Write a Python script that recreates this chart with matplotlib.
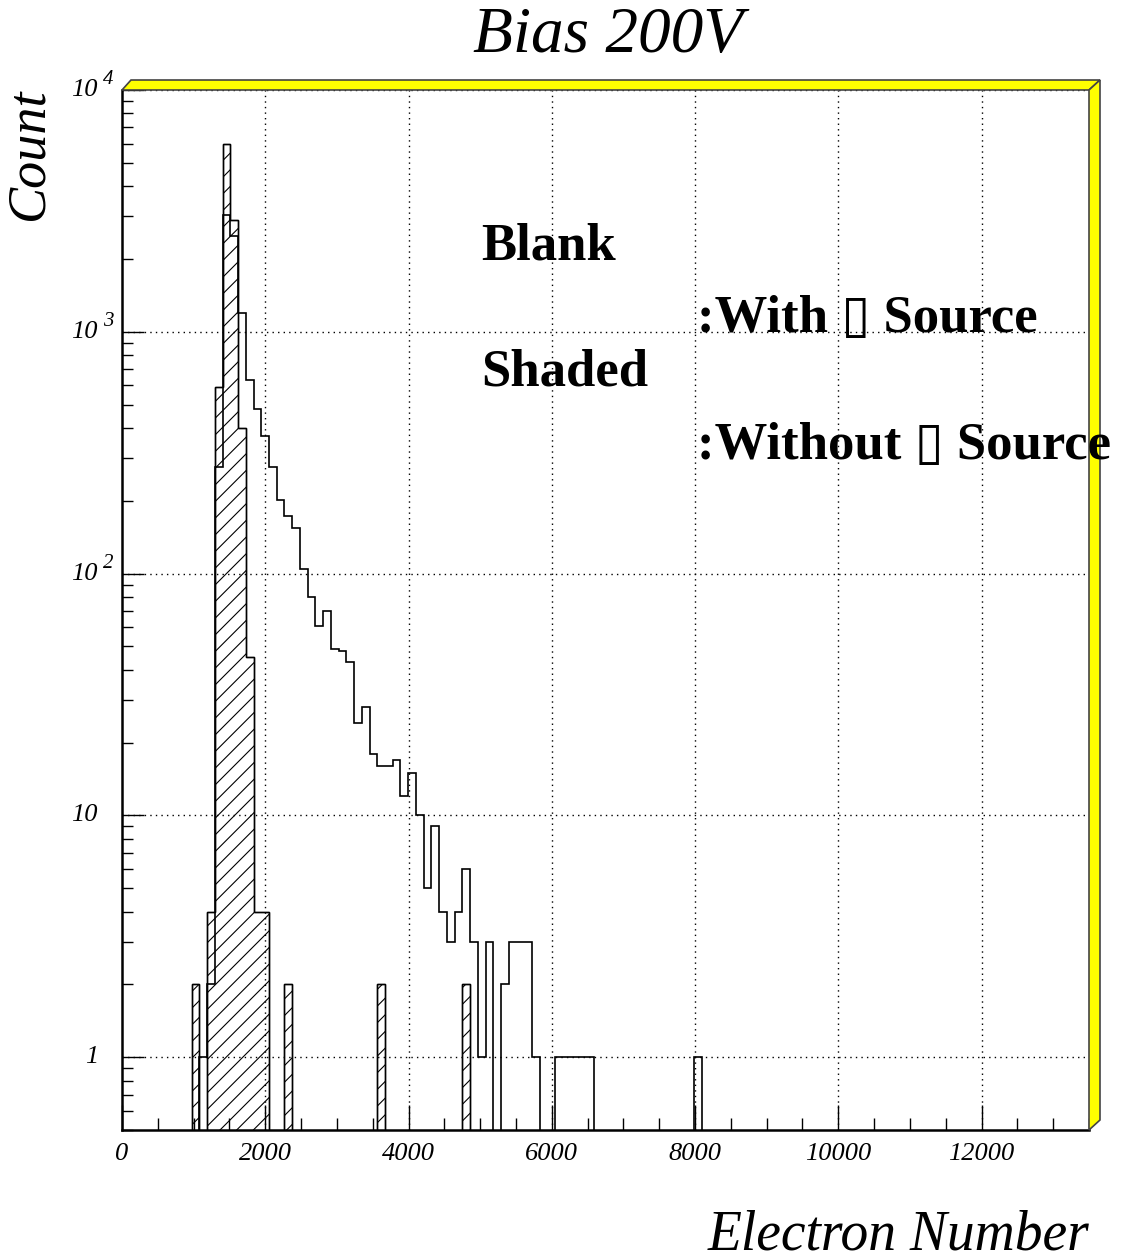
import numpy as np
import matplotlib
matplotlib.use("Agg")
import matplotlib.pyplot as plt
from matplotlib.patches import Polygon
from matplotlib import transforms

plt.rcParams['font.family'] = ['Liberation Serif', 'DejaVu Sans']
plt.rcParams['hatch.linewidth'] = 0.8

# histogram: 125 bins from 0 to 13500
n_bins = 125
x_max = 13500

# "with source" (open histogram), counts from bin 10 on
with_first_bin = 10
with_counts = [1, 2, 275, 3050, 2500, 1200, 634, 479, 369, 275,
               202, 173, 155, 104, 80, 61, 70, 49, 48, 43,
               24, 28, 18, 16, 16, 17, 12, 15, 10, 5,
               9, 4, 3, 4, 6, 3, 1, 3, 0, 2,
               3, 3, 3, 1, 0, 0, 1, 1, 1, 1,
               1, 0, 0, 0, 0, 0, 0, 0, 0, 0,
               0, 0, 0, 0, 1]

# "without source" (shaded histogram), counts from bin 9 on
without_first_bin = 9
without_counts = [2, 0, 4, 590, 6000, 2900, 400, 45, 4, 4,
                  0, 0, 2, 0, 0, 0, 0, 0, 0, 0,
                  0, 0, 0, 0, 2, 0, 0, 0, 0, 0,
                  0, 0, 0, 0, 0, 2]

x_ticks = [0, 2000, 4000, 6000, 8000, 10000, 12000]
decades = [1, 10, 100, 1000, 10000]
decade_base = ['1', '10', '10', '10', '10']
decade_exp = ['', '', '2', '3', '4']

edges = np.linspace(0, x_max, n_bins + 1)
h_with = np.zeros(n_bins)
h_with[with_first_bin:with_first_bin + len(with_counts)] = with_counts
h_without = np.zeros(n_bins)
h_without[without_first_bin:without_first_bin + len(without_counts)] = without_counts

W, H = 1128, 1260
fig = plt.figure(figsize=(W / 100, H / 100), dpi=100)


def fx(px):
    return px / W


def fy(py):
    return 1 - py / H


ax = fig.add_axes([fx(122), fy(1130), fx(1089) - fx(122), fy(90) - fy(1130)])
ax.set_yscale('log', nonpositive='clip')
ax.set_xlim(0, x_max)
ax.set_ylim(0.5, 10000)

# shaded histogram first, open outline on top
ax.stairs(h_without, edges, baseline=0, fill=True, facecolor='none',
          edgecolor='black', hatch='//', linewidth=1.0, zorder=2)
ax.stairs(h_without, edges, baseline=0, fill=False, color='black',
          linewidth=1.0, zorder=3)
ax.stairs(h_with, edges, baseline=0, fill=False, color='black',
          linewidth=1.2, zorder=4)

# grid
for xv in x_ticks[1:]:
    ax.axvline(xv, color='black', lw=1, ls=(0, (1, 3)), zorder=1)
for yv in decades:
    ax.axhline(yv, color='black', lw=1, ls=(0, (1, 3)), zorder=1)

# ticks
ax.set_xticks(x_ticks)
ax.set_xticks(np.arange(0, x_max + 1, 500), minor=True)
ax.set_xticklabels([str(v) for v in x_ticks], fontstyle='italic', fontsize=19)
ax.tick_params(axis='x', which='major', direction='in', length=18, width=1,
               top=False, pad=9)
ax.tick_params(axis='x', which='minor', direction='in', length=9, width=1, top=False)
ax.tick_params(axis='y', which='major', direction='in', length=16, width=1, right=False)
ax.tick_params(axis='y', which='minor', direction='in', length=8, width=1, right=False)
ax.set_yticks(decades)
ax.set_yticklabels([])
ax.yaxis.set_minor_locator(matplotlib.ticker.LogLocator(base=10, subs=np.arange(2, 10)))
ax.yaxis.set_minor_formatter(matplotlib.ticker.NullFormatter())

for s in ['top', 'right']:
    ax.spines[s].set_visible(False)
for s in ['left', 'bottom']:
    ax.spines[s].set_linewidth(1.8)

# y labels drawn by hand: "10" plus raised exponent
tr = transforms.blended_transform_factory(fig.transFigure, ax.transData)
for v, b, e in zip(decades, decade_base, decade_exp):
    ax.text(fx(98), v, b, transform=tr, ha='right', va='center',
            fontstyle='italic', fontsize=19, clip_on=False)
    if e:
        off = transforms.offset_copy(tr, fig=fig, x=0, y=10, units='dots')
        ax.text(fx(103), v, e, transform=off, ha='left', va='center',
                fontstyle='italic', fontsize=15, clip_on=False)

# yellow bevelled frame on top and right
top_band = [(122, 90), (131, 80), (1100, 80), (1089, 90)]
right_band = [(1089, 90), (1100, 80), (1100, 1120), (1089, 1130)]
for band in (top_band, right_band):
    fig.add_artist(Polygon([(fx(a), fy(b)) for a, b in band], closed=True,
                           transform=fig.transFigure, facecolor='#ffff00',
                           edgecolor='#444444', linewidth=1.2))

# titles
fig.text(fx(608), fy(36), 'Bias 200V', ha='center', va='center',
         fontstyle='italic', fontsize=47)
fig.text(fx(1089), fy(1250), 'Electron Number', ha='right', va='baseline',
         fontstyle='italic', fontsize=40)
fig.text(fx(54), fy(88), 'Count', ha='right', va='top', rotation=90,
         fontstyle='italic', fontsize=39)

# legend text
bold = dict(fontweight='bold', fontsize=38, va='baseline', ha='left')
fig.text(fx(481), fy(260), 'Blank', **bold)
fig.text(fx(481), fy(386), 'Shaded', **bold)
fig.text(fx(697), fy(332), ':With \u25af Source', **bold)
fig.text(fx(697), fy(459), ':Without \u25af Source', **bold)

fig.savefig('out.png', dpi=100)
